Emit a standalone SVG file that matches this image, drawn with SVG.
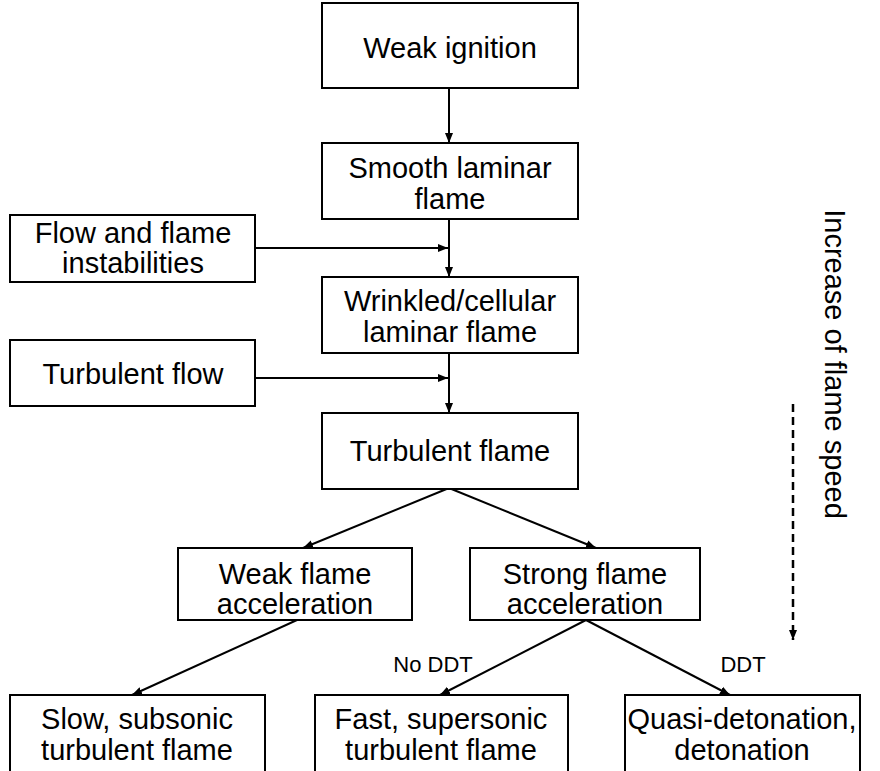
<svg xmlns="http://www.w3.org/2000/svg" width="880" height="771" viewBox="0 0 880 771">
<style>
.box{fill:#fff;stroke:#000;stroke-width:2}
.t{font-family:"Liberation Sans",Arial,sans-serif;font-size:29px;fill:#000;text-anchor:middle}
.s{font-family:"Liberation Sans",Arial,sans-serif;font-size:22px;fill:#000;text-anchor:middle}
.c{fill:none;stroke:#000;stroke-width:2}
</style>
<defs>
<marker id="ah" viewBox="0 0 10 10" refX="10" refY="5" markerWidth="10" markerHeight="10" markerUnits="userSpaceOnUse" orient="auto">
<path d="M0,1 L10,5 L0,9 Z" fill="#000"/>
</marker>
</defs>
<rect width="880" height="771" fill="#fff"/>
<g id="connectors">
<line class="c" x1="449" y1="88" x2="449" y2="143" marker-end="url(#ah)"/>
<line class="c" x1="449" y1="219" x2="449" y2="277" marker-end="url(#ah)"/>
<line class="c" x1="255" y1="248" x2="448" y2="248" marker-end="url(#ah)"/>
<line class="c" x1="449" y1="352" x2="449" y2="413" marker-end="url(#ah)"/>
<line class="c" x1="255" y1="378" x2="448" y2="378" marker-end="url(#ah)"/>
<line class="c" x1="449" y1="488" x2="303" y2="548" marker-end="url(#ah)"/>
<line class="c" x1="449" y1="488" x2="596" y2="548" marker-end="url(#ah)"/>
<line class="c" x1="297" y1="620" x2="132" y2="695" marker-end="url(#ah)"/>
<line class="c" x1="586" y1="620" x2="440" y2="695" marker-end="url(#ah)"/>
<line class="c" x1="586" y1="620" x2="730" y2="695" marker-end="url(#ah)"/>
<line x1="793" y1="404" x2="793" y2="640" stroke="#000" stroke-width="2.5" stroke-dasharray="8,5" marker-end="url(#ah)"/>
</g>
<g id="weak-ignition"><rect class="box" x="322" y="3" width="256" height="85"/><text class="t" x="450" y="58">Weak ignition</text></g>
<g id="smooth-laminar"><rect class="box" x="322" y="143" width="256" height="76"/><text class="t" x="450" y="178">Smooth laminar</text><text class="t" x="450" y="209">flame</text></g>
<g id="instabilities"><rect class="box" x="10" y="215" width="245" height="67"/><text class="t" x="133" y="243">Flow and flame</text><text class="t" x="133" y="273">instabilities</text></g>
<g id="wrinkled"><rect class="box" x="322" y="277" width="256" height="76"/><text class="t" x="450" y="311">Wrinkled/cellular</text><text class="t" x="450" y="342">laminar flame</text></g>
<g id="turbulent-flow"><rect class="box" x="10" y="340" width="245" height="66"/><text class="t" x="133" y="384">Turbulent flow</text></g>
<g id="turbulent-flame"><rect class="box" x="322" y="413" width="256" height="76"/><text class="t" x="450" y="461">Turbulent flame</text></g>
<g id="weak-acc"><rect class="box" x="178" y="548" width="234" height="72"/><text class="t" x="295" y="584">Weak flame</text><text class="t" x="295" y="614">acceleration</text></g>
<g id="strong-acc"><rect class="box" x="470" y="548" width="230" height="72"/><text class="t" x="585" y="584">Strong flame</text><text class="t" x="585" y="614">acceleration</text></g>
<g id="slow"><rect class="box" x="10" y="695" width="255" height="80"/><text class="t" x="137" y="729">Slow, subsonic</text><text class="t" x="137" y="760">turbulent flame</text></g>
<g id="fast"><rect class="box" x="315" y="695" width="253" height="80"/><text class="t" x="441" y="729">Fast, supersonic</text><text class="t" x="441" y="760">turbulent flame</text></g>
<g id="quasi"><rect class="box" x="625" y="695" width="235" height="80"/><text class="t" x="742" y="729">Quasi-detonation,</text><text class="t" x="742" y="760">detonation</text></g>
<text class="s" x="433" y="672">No DDT</text>
<text class="s" x="743" y="672">DDT</text>
<text class="t" font-size="26" transform="translate(825,364) rotate(90)">Increase of flame speed</text>
</svg>
